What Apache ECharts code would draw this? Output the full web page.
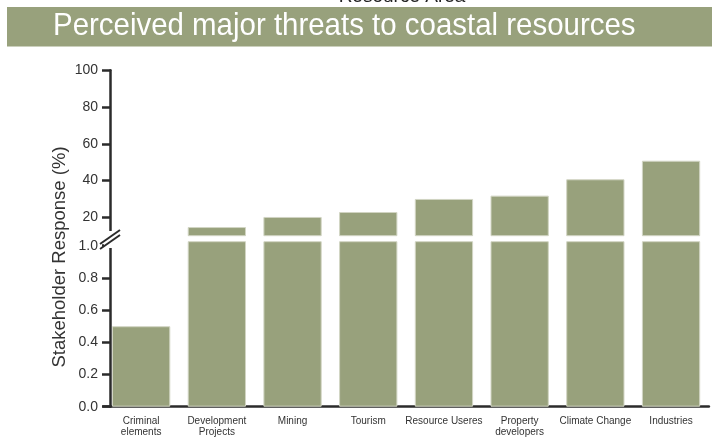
<!DOCTYPE html>
<html>
<head>
<meta charset="utf-8" />
<title>Perceived major threats to coastal resources</title>
<script type="text/javascript" src="https://cdn.jsdelivr.net/npm/echarts@6/dist/echarts.min.js"></script>
<style>
html, body { margin: 0; padding: 0; background: #fff; }
#chart { width: 712px; height: 437px; }
</style>
</head>
<body>
<div id="chart"></div>
<script type="text/javascript">
// data
var categories = ['Criminal\nelements', 'Development\nProjects', 'Mining', 'Tourism',
    'Resource Useres', 'Property\ndevelopers', 'Climate Change', 'Industries'];
var responses = [0.5, 14.7, 20.2, 22.9, 30, 31.8, 40.7, 50.8];
var upperTicks = [20, 40, 60, 80, 100];
var lowerTicks = [0, 0.2, 0.4, 0.6, 0.8, 1.0];

var green = '#98a17c';
var ink = '#2b2b2b';
var font = 'Liberation Sans, Arial, sans-serif';

var myChart = echarts.init(document.getElementById('chart'));

var barStyle = { color: green, borderColor: '#d2d5c4', borderWidth: 1 };

myChart.setOption({
    animation: false,
    textStyle: { fontFamily: font },
    grid: [
        { left: 103.3, right: 3.1, top: 70.3, bottom: 201.3, outerBoundsMode: 'none' },
        { left: 103.3, right: 3.1, top: 241.7, bottom: 30.3, outerBoundsMode: 'none' },
        { left: 103.3, right: 3.1, top: 241.7, bottom: 30.3, outerBoundsMode: 'none' }
    ],
    xAxis: [
        { gridIndex: 0, type: 'category', data: categories, show: false },
        {
            gridIndex: 1, type: 'category', data: categories,
            axisLine: { lineStyle: { color: ink, width: 2.5 } },
            axisTick: { alignWithLabel: true, length: 7, lineStyle: { color: ink, width: 2.5 } },
            axisLabel: { color: '#333', fontSize: 10, lineHeight: 11, margin: 9.5, interval: 0 }
        },
        {
            gridIndex: 2, type: 'category', data: categories,
            axisLine: { show: false },
            axisTick: { length: 4, lineStyle: { color: ink, width: 2 } },
            axisLabel: { show: false }
        }
    ],
    yAxis: [
        {
            gridIndex: 0, type: 'value', min: 10, max: 100, offset: -6.7,
            splitLine: { show: false },
            axisLine: { show: true, lineStyle: { color: ink, width: 2.5 } },
            axisTick: { show: true, length: 8, customValues: upperTicks, lineStyle: { color: ink, width: 2.5 } },
            axisLabel: { customValues: upperTicks, color: '#333', fontSize: 14, margin: 12 }
        },
        {
            gridIndex: 1, type: 'value', min: 0, max: 1.025, offset: -6.7,
            splitLine: { show: false },
            axisLine: { show: true, lineStyle: { color: ink, width: 2.5 } },
            axisTick: { show: true, length: 8, customValues: lowerTicks, lineStyle: { color: ink, width: 2.5 } },
            axisLabel: {
                customValues: lowerTicks, color: '#333', fontSize: 14, margin: 12,
                formatter: function (v) { return v.toFixed(1); }
            }
        },
        { gridIndex: 2, type: 'value', show: false }
    ],
    series: [
        {
            name: 'upper', type: 'bar', xAxisIndex: 0, yAxisIndex: 0,
            data: responses, barCategoryGap: '23%', itemStyle: barStyle
        },
        {
            name: 'lower', type: 'bar', xAxisIndex: 1, yAxisIndex: 1,
            data: responses, barCategoryGap: '23%', itemStyle: barStyle
        }
    ],
    graphic: [
        { type: 'rect', z: 100, shape: { x: 7, y: 7, width: 705, height: 39.5 }, style: { fill: green } },
        {
            type: 'text', z: 101, x: 53, y: 26.5, scaleX: 0.92,
            style: {
                text: 'Perceived major threats to coastal resources', fill: '#fff',
                font: '32px ' + font, verticalAlign: 'middle'
            }
        },
        {
            type: 'text', z: 99, x: 402, y: -3,
            style: {
                text: 'Resource Area', fill: '#222', font: '19px ' + font,
                align: 'center', verticalAlign: 'middle'
            }
        },
        {
            type: 'text', z: 101, x: 60, y: 257, rotation: Math.PI / 2,
            style: {
                text: 'Stakeholder Response (%)', fill: '#333', font: '18.5px ' + font,
                align: 'center', verticalAlign: 'middle'
            }
        },
        // axis break
        { type: 'rect', z: 100, shape: { x: 104, y: 231, width: 12, height: 17 }, style: { fill: '#fff' } },
        { type: 'line', z: 101, shape: { x1: 100, y1: 244, x2: 120, y2: 230 }, style: { stroke: ink, lineWidth: 2 } },
        { type: 'line', z: 101, shape: { x1: 100, y1: 249, x2: 120, y2: 235 }, style: { stroke: ink, lineWidth: 2 } }
    ]
});
</script>
</body>
</html>
